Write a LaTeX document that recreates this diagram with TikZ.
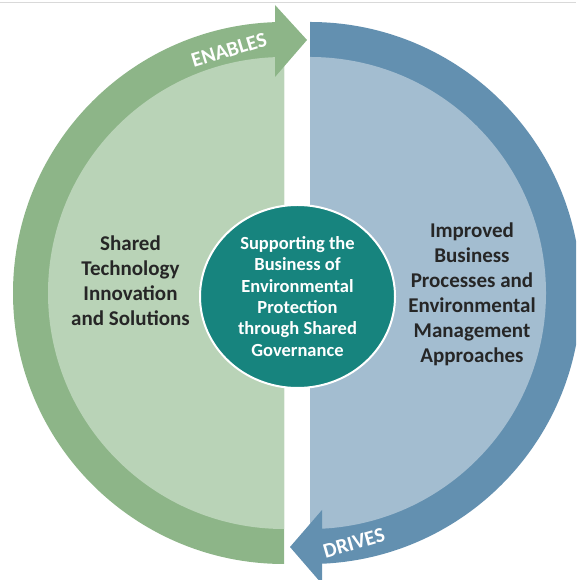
\documentclass[tikz,border=0pt]{standalone}
\usepackage{fontspec}
\setmainfont{Carlito}
\usetikzlibrary{shapes.geometric}
\definecolor{greendark}{HTML}{8DB588}
\definecolor{greenlight}{HTML}{B9D3B7}
\definecolor{bluedark}{HTML}{6390B0}
\definecolor{bluelight}{HTML}{A3BDD0}
\definecolor{hubteal}{HTML}{17847E}
\definecolor{textdark}{HTML}{262626}

\begin{document}
\begin{tikzpicture}[x=1pt, y=1pt,
  side/.style={align=center, text=textdark, font=\fontsize{21}{25}\selectfont\bfseries},
  tag/.style={text=white, inner sep=0pt, font=\fontsize{21}{24}\selectfont\bfseries},
  hub/.style={ellipse, fill=hubteal, draw=white, line width=2pt, minimum width=195, minimum height=183, inner sep=0pt, align=center, text=white, font=\fontsize{18.5}{21.3}\selectfont\bfseries}]
\useasboundingbox (0,0) rectangle (576,580);
\clip (0,0) rectangle (576,580);
\draw[black!15, line width=1.5] (0,577.5)--(576,577.5);

% left half
\fill[greendark] (284,16)arc(270:90:271)--cycle;
\fill[greenlight] (284,51)arc(270:90:236)--cycle;
\fill[greendark] (275,575)--(307,540)--(275,503)--cycle;

% right half
\fill[bluedark] (310,558)arc(90:-90:271)--cycle;
\fill[bluelight] (310,523)arc(90:-90:236)--cycle;
\fill[bluedark] (322,70)--(290,33)--(322,-4)--cycle;

\node[hub] (hub) at (297.5,283.5) {Supporting the\\Business of\\Environmental\\Protection\\through Shared\\Governance};
\node[side] (tech) at (130.5,299.5) {Shared\\Technology\\Innovation\\and Solutions};
\node[side] (process) at (472,285.5) {Improved\\Business\\Processes and\\Environmental\\Management\\Approaches};
\node[tag, rotate=17] (enables) at (229,530) {ENABLES};
\node[tag, rotate=16] (drives) at (354,37) {DRIVES};

\end{tikzpicture}
\end{document}
